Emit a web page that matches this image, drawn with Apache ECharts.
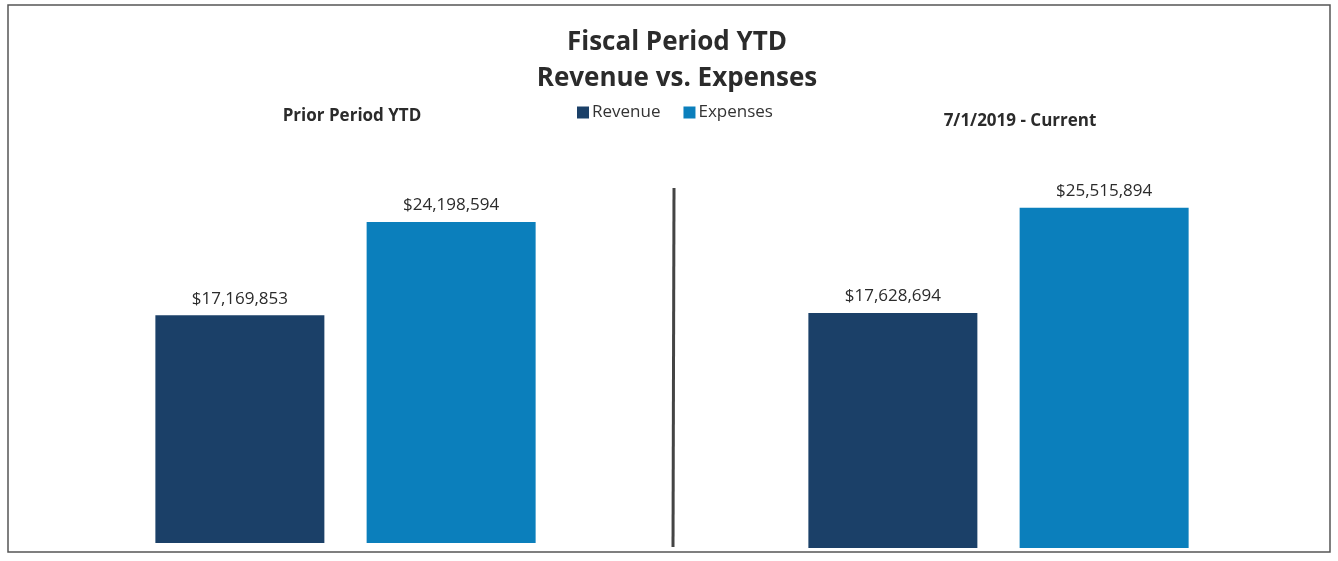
<!DOCTYPE html>
<html>
<head>
<meta charset="utf-8">
<script src="https://cdn.jsdelivr.net/npm/echarts@6/dist/echarts.min.js"></script>
<style>
  html, body { margin: 0; padding: 0; background: #fff; }
  #chart { width: 1338px; height: 561px; }
</style>
</head>
<body>
<div id="chart"></div>
<script>
// data
var periods = ['Prior Period YTD', '7/1/2019 - Current'];
var seriesNames = ['Revenue', 'Expenses'];
var revenue = [17169853, 17628694];
var expenses = [24198594, 25515894];

var colors = { Revenue: '#1b4068', Expenses: '#0b7fbc' };
var font = '"Open Sans", "Liberation Sans", sans-serif';

function money(v) {
    return '$' + Number(v).toLocaleString('en-US');
}

var myChart = echarts.init(document.getElementById('chart'));

// one grid per period
var grids = [
    { left: 133, top: 145, width: 425, height: 398 },
    { left: 786, top: 148, width: 425, height: 400 }
];

var xAxes = [], yAxes = [], series = [];
periods.forEach(function(p, i) {
    xAxes.push({ type: 'category', gridIndex: i, data: [p], show: false });
    yAxes.push({ type: 'value', gridIndex: i, min: 0, max: 30000000, show: false, splitLine: { show: false } });
    [revenue, expenses].forEach(function(arr, k) {
        series.push({
            name: seriesNames[k],
            type: 'bar',
            xAxisIndex: i,
            yAxisIndex: i,
            data: [arr[i]],
            barWidth: 169,
            barGap: '25%',
            itemStyle: { color: colors[seriesNames[k]] },
            label: {
                show: true,
                position: 'top',
                distance: 8,
                formatter: function(o) { return money(o.value); },
                color: '#2b2b2b',
                fontSize: 17,
                fontFamily: font
            }
        });
    });
});

var option = {
    animation: false,
    title: [{
        text: 'Fiscal Period YTD\nRevenue vs. Expenses',
        left: 672,
        top: 20,
        textAlign: 'center',
        textStyle: { fontSize: 26, fontWeight: 'bold', color: '#2b2b2b', lineHeight: 36, fontFamily: font }
    }, {
        text: periods[0],
        left: 347,
        top: 103,
        textAlign: 'center',
        textStyle: { fontSize: 17, fontWeight: 'bold', color: '#2b2b2b', fontFamily: font }
    }, {
        text: periods[1],
        left: 1015,
        top: 108,
        textAlign: 'center',
        textStyle: { fontSize: 17, fontWeight: 'bold', color: '#2b2b2b', fontFamily: font }
    }],
    legend: {
        data: seriesNames,
        left: 572,
        top: 99,
        icon: 'rect',
        itemWidth: 12,
        itemHeight: 12,
        itemGap: 23,
        textStyle: { fontSize: 17, color: '#333', fontFamily: font, padding: [0, 0, 0, -2] }
    },
    grid: grids,
    xAxis: xAxes,
    yAxis: yAxes,
    series: series,
    graphic: [{
        type: 'rect',
        shape: { x: 8, y: 5, width: 1322, height: 547 },
        style: { fill: 'none', stroke: '#555', lineWidth: 1.5 }
    }, {
        type: 'line',
        shape: { x1: 674, y1: 188, x2: 673, y2: 547 },
        style: { stroke: '#444', lineWidth: 3 }
    }]
};

myChart.setOption(option);
</script>
</body>
</html>
